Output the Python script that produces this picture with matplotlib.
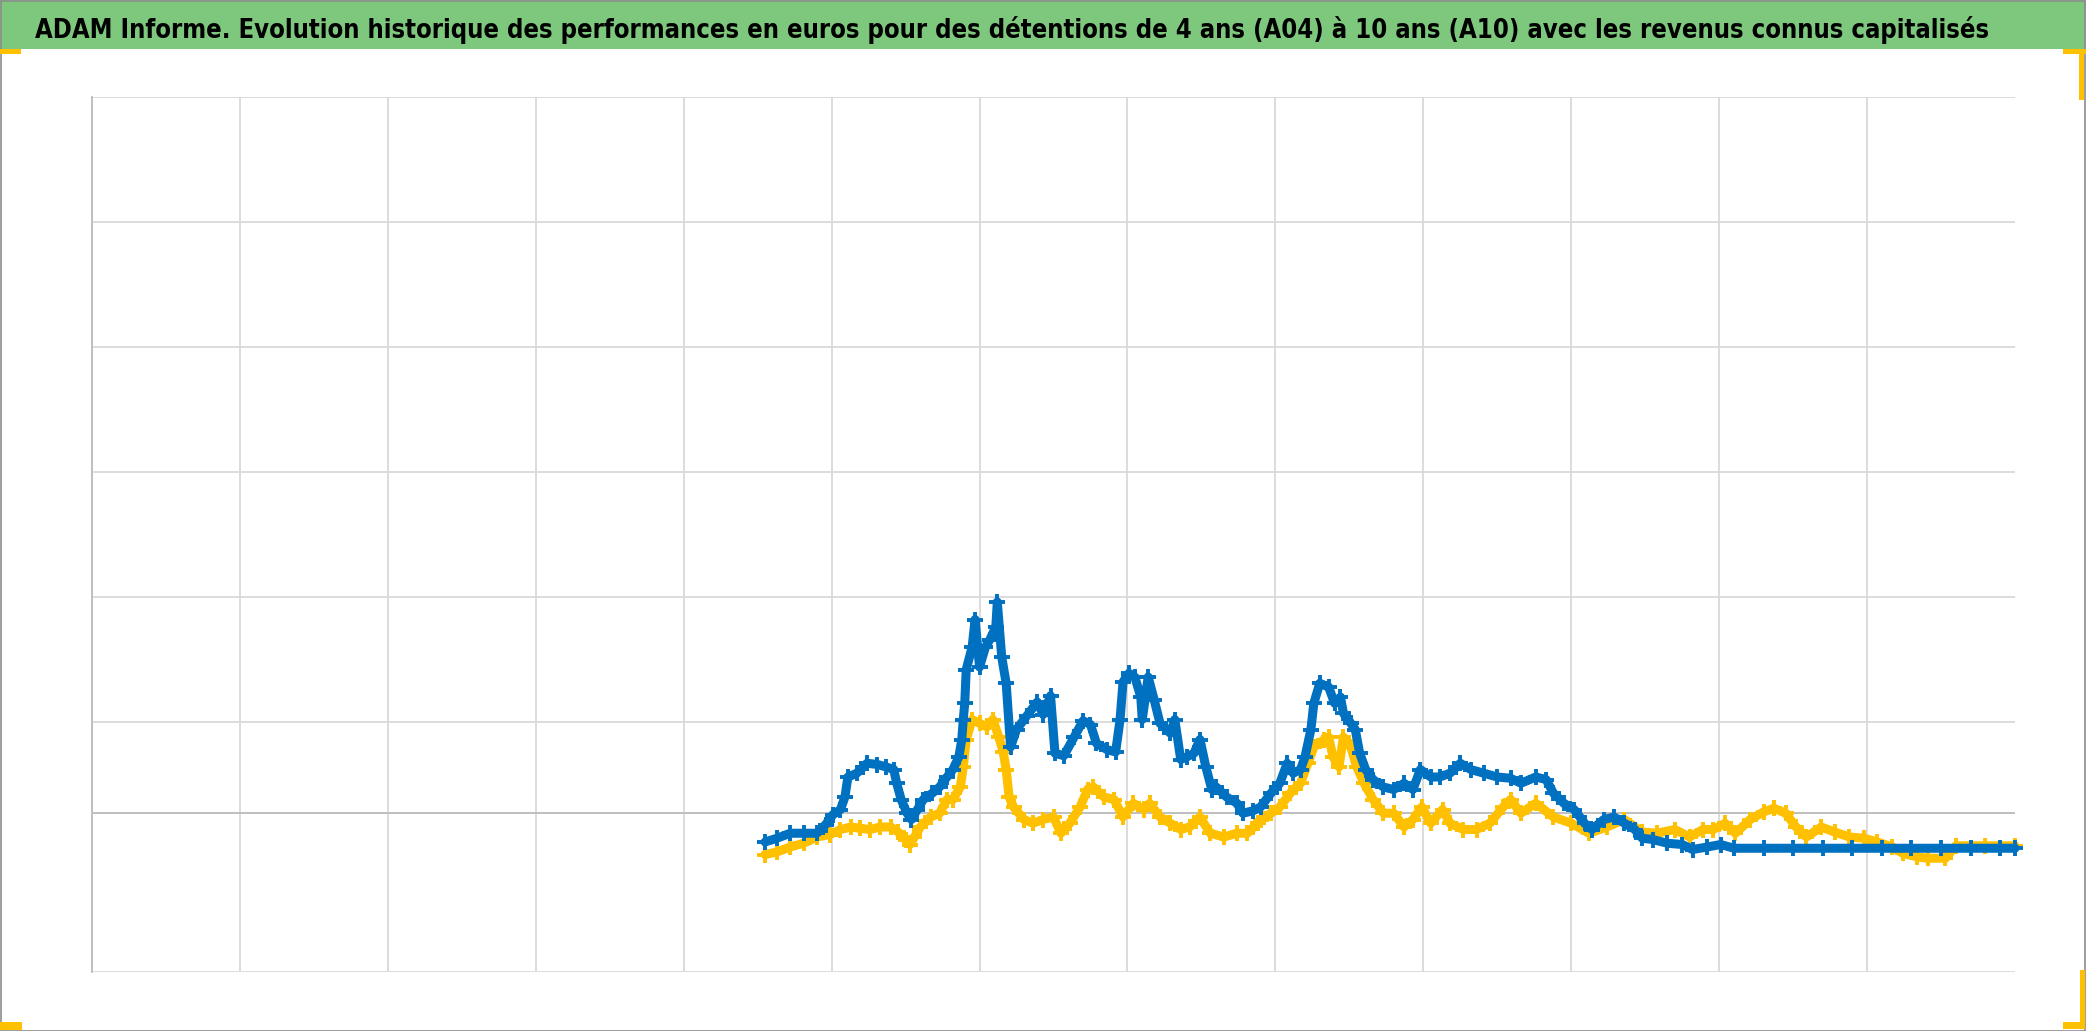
"""
ADAM Informe chart: scatter of '+' markers for two holding periods,
Excel-like look (green title bar, light grid, no tick labels).
"""
import matplotlib
matplotlib.use('Agg')
import matplotlib.pyplot as plt
from matplotlib import font_manager
from matplotlib.font_manager import FontProperties
from matplotlib.patches import Rectangle

TITLE = ("ADAM Informe. Evolution historique des performances en euros pour des "
         "détentions de 4 ans (A04) à 10 ans (A10) avec les revenus connus capitalisés")

# axis layout: 13 vertical divisions, 7 horizontal ones
X_MAX = 13
Y_MAX = 7
Y_GRID = [0, 2, 3, 4, 5, 6, 7]
AXIS_Y = 1.27   # level where the horizontal axis crosses

# blue series
blue_x = [4.55, 4.63, 4.72, 4.81, 4.90, 4.96, 5.01, 5.06, 5.09, 5.11, 5.17, 5.24,
          5.31, 5.37, 5.42, 5.44, 5.47, 5.51, 5.54, 5.58, 5.62, 5.68, 5.73, 5.78,
          5.82, 5.86, 5.88, 5.89, 5.90, 5.91, 5.95, 5.97, 6.00, 6.04, 6.07, 6.11,
          6.12, 6.15, 6.18, 6.21, 6.25, 6.32, 6.39, 6.43, 6.48, 6.51, 6.57, 6.64,
          6.70, 6.75, 6.79, 6.86, 6.92, 6.95, 6.97, 7.01, 7.05, 7.09, 7.10, 7.14,
          7.18, 7.22, 7.29, 7.32, 7.36, 7.40, 7.45, 7.49, 7.53, 7.57, 7.60, 7.67,
          7.74, 7.78, 7.85, 7.90, 7.97, 8.03, 8.08, 8.12, 8.17, 8.20, 8.24, 8.26,
          8.30, 8.36, 8.40, 8.44, 8.46, 8.51, 8.54, 8.57, 8.61, 8.66, 8.73, 8.80,
          8.87, 8.93, 8.98, 9.05, 9.11, 9.18, 9.25, 9.32, 9.41, 9.50, 9.59, 9.66,
          9.76, 9.83, 9.88, 9.95, 10.02, 10.09, 10.14, 10.22, 10.29, 10.36, 10.43,
          10.48, 10.55, 10.65, 10.75, 10.82, 10.92, 11.01,
          11.10, 11.30, 11.50, 11.70, 11.90, 12.10, 12.30, 12.50, 12.70, 12.90, 13.00]
blue_y = [1.04, 1.07, 1.11, 1.11, 1.11, 1.18, 1.26, 1.30, 1.40, 1.56, 1.59, 1.67,
          1.66, 1.64, 1.62, 1.51, 1.38, 1.27, 1.22, 1.30, 1.38, 1.43, 1.48, 1.56,
          1.62, 1.72, 1.86, 2.02, 2.15, 2.42, 2.60, 2.82, 2.44, 2.60, 2.66, 2.76,
          2.96, 2.52, 2.31, 1.80, 1.94, 2.05, 2.16, 2.06, 2.21, 1.75, 1.73, 1.88,
          2.01, 1.98, 1.83, 1.78, 1.76, 2.02, 2.32, 2.39, 2.36, 2.20, 2.02, 2.36,
          2.18, 1.99, 1.91, 2.02, 1.70, 1.72, 1.75, 1.86, 1.64, 1.46, 1.48, 1.40,
          1.35, 1.27, 1.29, 1.32, 1.43, 1.51, 1.67, 1.59, 1.62, 1.72, 1.94, 2.15,
          2.31, 2.28, 2.15, 2.20, 2.07, 1.99, 1.94, 1.75, 1.62, 1.54, 1.48, 1.46,
          1.51, 1.46, 1.62, 1.56, 1.56, 1.59, 1.67, 1.62, 1.59, 1.56, 1.55, 1.51,
          1.56, 1.54, 1.43, 1.35, 1.30, 1.19, 1.14, 1.22, 1.24, 1.19, 1.14,
          1.07, 1.06, 1.03, 1.02, 0.98, 1.00, 1.02,
          0.99, 0.99, 0.99, 0.99, 0.99, 0.99, 0.99, 0.99, 0.99, 0.99, 0.99]

# yellow series
yellow_x = [4.55, 4.63, 4.72, 4.81, 4.90, 4.99, 5.06, 5.13, 5.19, 5.26, 5.33, 5.40,
            5.45, 5.50, 5.53, 5.56, 5.60, 5.67, 5.73, 5.78, 5.82, 5.87, 5.89, 5.91,
            5.95, 6.00, 6.05, 6.09, 6.13, 6.16, 6.18, 6.20, 6.23, 6.30, 6.36, 6.43,
            6.50, 6.55, 6.61, 6.68, 6.73, 6.77, 6.84, 6.91, 6.97, 7.04, 7.11, 7.15,
            7.22, 7.29, 7.36, 7.42, 7.49, 7.56, 7.65, 7.74, 7.81, 7.88, 7.90, 7.97,
            8.03, 8.10, 8.17, 8.22, 8.26, 8.33, 8.36, 8.39, 8.43, 8.46, 8.51, 8.55,
            8.60, 8.66, 8.73, 8.80, 8.87, 8.93, 8.99, 9.05, 9.13, 9.18, 9.27, 9.36,
            9.45, 9.54, 9.59, 9.66, 9.76, 9.88, 10.00, 10.12, 10.24, 10.36, 10.48,
            10.58, 10.70, 10.80, 10.89, 10.96, 11.04, 11.11, 11.21, 11.30, 11.37,
            11.45, 11.52, 11.59, 11.69, 11.78, 11.88, 11.98, 12.07, 12.17, 12.24,
            12.34, 12.41, 12.53, 12.60, 12.80, 13.00]
yellow_y = [0.94, 0.96, 1.00, 1.03, 1.08, 1.10, 1.14, 1.16, 1.15, 1.14, 1.16, 1.16,
            1.12, 1.06, 1.02, 1.08, 1.16, 1.24, 1.27, 1.38, 1.38, 1.48, 1.64, 1.86,
            2.02, 1.99, 1.96, 2.02, 1.88, 1.76, 1.62, 1.40, 1.32, 1.22, 1.19, 1.22,
            1.24, 1.11, 1.19, 1.32, 1.46, 1.48, 1.40, 1.38, 1.24, 1.35, 1.30, 1.35,
            1.24, 1.19, 1.14, 1.16, 1.24, 1.11, 1.08, 1.11, 1.11, 1.19, 1.22, 1.27,
            1.32, 1.43, 1.51, 1.67, 1.80, 1.86, 1.88, 1.72, 1.64, 1.88, 1.80, 1.64,
            1.51, 1.38, 1.27, 1.27, 1.16, 1.22, 1.32, 1.19, 1.30, 1.19, 1.14, 1.14,
            1.19, 1.32, 1.38, 1.27, 1.35, 1.24, 1.19, 1.11, 1.16, 1.22, 1.12,
            1.11, 1.14, 1.08, 1.14, 1.14, 1.19, 1.11, 1.22, 1.28, 1.31,
            1.27, 1.16, 1.08, 1.16, 1.12, 1.08, 1.07, 1.04, 1.00, 0.95,
            0.92, 0.91, 0.91, 1.01, 1.01, 1.01]

BLUE = '#0070C0'
YELLOW = '#FFC000'
GRID = '#D9D9D9'
AXIS = '#BFBFBF'
GREEN = '#7DC87D'


def title_font():
    """
    pick a bold, narrow font close to Calibri Bold, fall back to DejaVu Sans Bold
    """
    fonts = font_manager.fontManager.ttflist
    wanted = ['Liberation Sans Narrow', 'Noto Sans', 'Open Sans', 'Roboto',
              'DejaVu Sans', 'Lato', 'Inter']
    for stretch in ['semi-condensed', 'condensed']:
        for name in wanted:
            for f in fonts:
                if f.name != name:
                    continue
                weight = f.weight if isinstance(f.weight, int) else 400
                if f.weight == 'bold':
                    weight = 700
                if weight >= 600 and weight < 800 and \
                        (f.stretch == stretch or name == 'Liberation Sans Narrow'):
                    return FontProperties(fname=f.fname)
    return FontProperties(family='DejaVu Sans', weight='bold')


def main():
    W, H = 2086, 1031
    fig = plt.figure(figsize=(W / 100, H / 100), dpi=100)

    # plot area
    ax = fig.add_axes([92 / W, 59 / H, 1923 / W, 875 / H])
    ax.set_xlim(0, X_MAX)
    ax.set_ylim(0, Y_MAX)
    ax.set_xticks(range(0, X_MAX))
    ax.set_yticks(Y_GRID)
    ax.tick_params(length=0, labelbottom=False, labelleft=False)
    ax.grid(True, color=GRID, lw=1.3, zorder=0)
    ax.set_axisbelow(True)
    for side in ['top', 'right', 'bottom']:
        ax.spines[side].set_visible(False)
    ax.spines['left'].set_color(AXIS)
    ax.spines['left'].set_linewidth(1.4)
    ax.axhline(AXIS_Y, color=AXIS, lw=1.4, zorder=1)

    # the two series, drawn as dense '+' bands
    ax.plot(yellow_x, yellow_y, color=YELLOW, lw=6.5, marker='+', ms=12, mew=2.8,
            solid_joinstyle='round', solid_capstyle='round', zorder=3, clip_on=False)
    ax.plot(blue_x, blue_y, color=BLUE, lw=6.5, marker='+', ms=12, mew=2.8,
            solid_joinstyle='round', solid_capstyle='round', zorder=4, clip_on=False)

    # green title bar
    fig.patches.append(Rectangle((0, 1 - 49 / H), 1, 49 / H, transform=fig.transFigure,
                                 facecolor=GREEN, edgecolor='none', zorder=0))
    fp = title_font()
    fp.set_size(20)
    title = fig.text(35 / W, 1 - 38 / H, TITLE, fontproperties=fp,
                     ha='left', va='baseline', color='black')
    fig.canvas.draw()
    bb = title.get_window_extent()
    # fit the title width, but keep it inside the bar
    size = min(20 * 1962 / bb.width, 28)
    title.set_fontsize(size)

    # chart frame
    fig.patches.append(Rectangle((0.5 / W, 0.5 / H), 1 - 1.5 / W, 1 - 1.5 / H,
                                 transform=fig.transFigure, facecolor='none',
                                 edgecolor='#8C8C8C', lw=1.2, zorder=5))

    # Excel selection handles (yellow corners)
    handles = [(0, 49, 21, 5), (2063, 49, 23, 5), (2079, 49, 5, 51),
               (0, 1022, 22, 8), (2080, 970, 5, 52), (2063, 1022, 22, 7)]
    for hx, hy, hw, hh in handles:
        fig.patches.append(Rectangle((hx / W, 1 - (hy + hh) / H), hw / W, hh / H,
                                     transform=fig.transFigure, facecolor=YELLOW,
                                     edgecolor='none', zorder=6))

    fig.savefig('out.png', dpi=100)
    plt.close(fig)


if __name__ == '__main__':
    main()
